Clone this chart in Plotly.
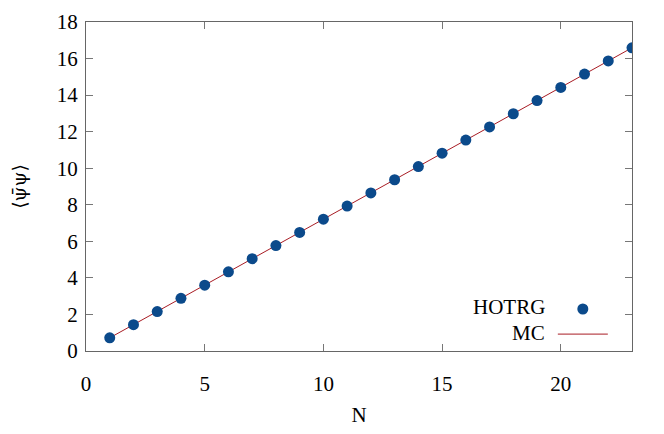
import plotly.graph_objects as go

N = list(range(1, 24))
hotrg = [0.72, 1.44, 2.16, 2.88, 3.60, 4.33, 5.05, 5.77, 6.49, 7.21, 7.93, 8.65,
         9.37, 10.09, 10.82, 11.54, 12.26, 12.98, 13.70, 14.42, 15.15, 15.87, 16.59]
mc = [0.72, 1.44, 2.16, 2.88, 3.60, 4.33, 5.05, 5.77, 6.49, 7.21, 7.93, 8.65,
      9.37, 10.09, 10.82, 11.54, 12.26, 12.98, 13.70, 14.42, 15.15, 15.87, 16.59]

font = dict(family="Liberation Serif", size=21, color="black")

fig = go.Figure()
fig.add_trace(go.Scatter(x=N, y=mc, mode="lines", name=" ",
                         line=dict(color="#a81c24", width=1), legendrank=2))
fig.add_trace(go.Scatter(x=N, y=hotrg, mode="markers", name=" ",
                         marker=dict(color="#0b4a8b", size=11), legendrank=1))

axis = dict(showgrid=False, zeroline=False, showline=True, mirror="allticks",
            linecolor="#666", linewidth=1.2, ticks="inside", ticklen=7,
            tickcolor="#777", tickfont=font, automargin=False)
fig.update_xaxes(range=[0, 23], dtick=5, ticklabelstandoff=14,
                 title=dict(text="N", font=font, standoff=12), **axis)
fig.update_yaxes(range=[0, 18], dtick=2, ticklabelstandoff=3,
                 title=dict(text="⟨ψ̄ψ⟩", font=dict(family="DejaVu Serif", size=19, color="black"),
                            standoff=25), **axis)

# page body adds an 8px offset, so margins are shifted to compensate
fig.update_layout(
    width=664, height=434,
    margin=dict(l=78, r=40, t=14, b=91),
    plot_bgcolor="white", paper_bgcolor="white",
    font=font,
    legend=dict(x=0.855, y=0.181, xanchor="left", yanchor="top", bgcolor="rgba(0,0,0,0)",
                itemwidth=50, tracegroupgap=0, font=dict(family="Liberation Serif", size=17)),
    annotations=[
        dict(text="HOTRG", x=0.844, y=0.135, xref="paper", yref="paper",
             xanchor="right", yanchor="middle", showarrow=False, font=font),
        dict(text="MC", x=0.844, y=0.055, xref="paper", yref="paper",
             xanchor="right", yanchor="middle", showarrow=False, font=font),
    ],
)

fig.write_html("out.html")
